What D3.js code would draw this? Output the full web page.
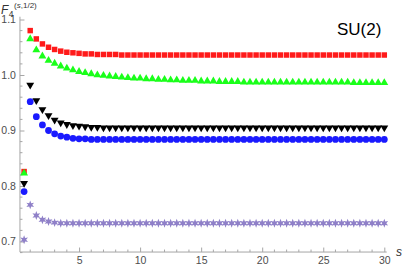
<!DOCTYPE html>
<html>
<head>
<meta charset="utf-8">
<script src="https://cdn.jsdelivr.net/npm/d3@7"></script>
<style>
  body { margin: 0; background: #fff; }
  svg { display: block; font-family: "Liberation Sans", Arial, sans-serif; }
</style>
</head>
<body>
<div id="chart"></div>
<script>
// values
const sVals = [0.5,1,1.5,2,2.5,3,3.5,4,4.5,5,5.5,6,6.5,7,7.5,8,8.5,9,9.5,10,
  10.5,11,11.5,12,12.5,13,13.5,14,14.5,15,15.5,16,16.5,17,17.5,18,18.5,19,19.5,20,
  20.5,21,21.5,22,22.5,23,23.5,24,24.5,25,25.5,26,26.5,27,27.5,28,28.5,29,29.5,30];

const redVals = [0.826,1.080,1.065,1.056,1.050,1.046,1.043,1.041,1.040,1.039,
  1.038,1.038,1.037,1.037,1.037,1.037,1.036,1.036,1.036,1.036,
  1.036,1.036,1.036,1.036,1.036,1.036,1.036,1.036,1.036,1.036,
  1.036,1.036,1.036,1.036,1.036,1.036,1.036,1.036,1.036,1.036,
  1.036,1.036,1.036,1.036,1.036,1.036,1.036,1.036,1.036,1.036,
  1.036,1.036,1.036,1.036,1.036,1.036,1.036,1.036,1.036,1.036];

const greenVals = [0.823,1.065,1.045,1.034,1.026,1.021,1.016,1.012,1.009,1.006,
  1.004,1.002,1.000,0.999,0.998,0.997,0.996,0.995,0.994,0.994,
  0.993,0.993,0.992,0.992,0.991,0.991,0.990,0.990,0.990,0.989,
  0.989,0.989,0.988,0.988,0.988,0.988,0.987,0.987,0.987,0.987,
  0.987,0.987,0.987,0.987,0.987,0.987,0.987,0.987,0.987,0.987,
  0.987,0.987,0.987,0.987,0.986,0.986,0.986,0.986,0.986,0.986];

const blackVals = [0.805,0.982,0.954,0.938,0.927,0.919,0.914,0.911,0.909,0.908,
  0.907,0.906,0.906,0.905,0.905,0.905,0.905,0.905,0.905,0.905,
  0.905,0.905,0.905,0.905,0.905,0.905,0.905,0.905,0.905,0.905,
  0.905,0.905,0.905,0.905,0.905,0.905,0.905,0.905,0.905,0.905,
  0.905,0.905,0.905,0.905,0.905,0.905,0.905,0.905,0.905,0.905,
  0.905,0.905,0.905,0.905,0.905,0.905,0.905,0.905,0.905,0.905];

const blueVals = [0.790,0.952,0.925,0.910,0.900,0.894,0.890,0.888,0.886,0.885,
  0.885,0.884,0.884,0.884,0.884,0.884,0.884,0.884,0.884,0.884,
  0.884,0.884,0.884,0.884,0.884,0.884,0.884,0.884,0.884,0.884,
  0.884,0.884,0.884,0.884,0.884,0.884,0.884,0.884,0.884,0.884,
  0.884,0.884,0.884,0.884,0.884,0.884,0.884,0.884,0.884,0.884,
  0.884,0.884,0.884,0.884,0.884,0.884,0.884,0.884,0.884,0.884];

const starVals = [0.703,0.766,0.747,0.739,0.736,0.734,0.733,0.733,0.733,0.733,
  0.733,0.733,0.733,0.733,0.733,0.733,0.733,0.733,0.733,0.733,
  0.733,0.733,0.733,0.733,0.733,0.733,0.733,0.733,0.733,0.733,
  0.733,0.733,0.733,0.733,0.733,0.733,0.733,0.733,0.733,0.733,
  0.733,0.733,0.733,0.733,0.733,0.733,0.733,0.733,0.733,0.733,
  0.733,0.733,0.733,0.733,0.733,0.733,0.733,0.733,0.733,0.733];

const xTicks = [5, 10, 15, 20, 25, 30];
const yTicks = [0.7, 0.8, 0.9, 1.0, 1.1];

const width = 403, height = 266;

const svg = d3.select("#chart").append("svg")
  .attr("width", width)
  .attr("height", height);

// scales (pixel positions measured from the tick marks)
const x = d3.scaleLinear().domain([0, 30]).range([18, 384.3]);
const y = d3.scaleLinear().domain([0.7, 1.1]).range([241.5, 19.5]);

const xMin = 0.16, xMax = 30.2, yMin = 0.681, yMax = 1.105;
const axisColor = "#a6a6a6";
const labelColor = "#4d4d4d";

// axis lines
svg.append("line")
  .attr("x1", x(xMin)).attr("x2", x(xMax))
  .attr("y1", y(yMin)).attr("y2", y(yMin))
  .attr("stroke", axisColor);
svg.append("line")
  .attr("x1", x(xMin)).attr("x2", x(xMin))
  .attr("y1", y(yMin)).attr("y2", y(yMax))
  .attr("stroke", axisColor);

// minor ticks
const xMinor = d3.range(1, 31).filter(v => v % 5 !== 0);
const yMinor = d3.range(0.68, 1.105, 0.02).filter(v => Math.abs(v * 10 - Math.round(v * 10)) > 0.01);

svg.append("g").selectAll("line").data(xMinor).enter().append("line")
  .attr("x1", d => x(d)).attr("x2", d => x(d))
  .attr("y1", y(yMin)).attr("y2", y(yMin) - 2.5)
  .attr("stroke", axisColor);
svg.append("g").selectAll("line").data(yMinor).enter().append("line")
  .attr("x1", x(xMin)).attr("x2", x(xMin) + 2.5)
  .attr("y1", d => y(d)).attr("y2", d => y(d))
  .attr("stroke", axisColor);

// major ticks + labels
const xAxis = svg.append("g")
  .attr("transform", `translate(0,${y(yMin)})`)
  .call(d3.axisBottom(x).tickValues(xTicks).tickSizeInner(-4.5).tickSizeOuter(0).tickPadding(5));
const yAxis = svg.append("g")
  .attr("transform", `translate(${x(xMin)},0)`)
  .call(d3.axisLeft(y).tickValues(yTicks).tickFormat(d3.format(".1f")).tickSizeInner(-4.5).tickSizeOuter(0).tickPadding(4));

[xAxis, yAxis].forEach(g => {
  g.select(".domain").remove();
  g.selectAll(".tick line").attr("stroke", axisColor);
  g.selectAll(".tick text")
    .attr("fill", labelColor)
    .style("font-size", "10.5px")
    .style("font-family", "'Liberation Sans', Arial, sans-serif");
});

// six-armed star marker
const star6 = {
  draw(context, size) {
    const r = Math.sqrt(size) * 0.62, ri = r * 0.45;
    for (let i = 0; i < 12; i++) {
      const a = -Math.PI / 2 + i * Math.PI / 6;
      const rr = i % 2 === 0 ? r : ri;
      const px = rr * Math.cos(a), py = rr * Math.sin(a);
      if (i === 0) context.moveTo(px, py); else context.lineTo(px, py);
    }
    context.closePath();
  }
};

const series = [
  { vals: redVals, color: "#ff1a1a", type: d3.symbolSquare, size: 30, rot: 0 },
  { vals: greenVals, color: "#1aff1a", type: d3.symbolTriangle, size: 27, rot: 0 },
  { vals: blackVals, color: "#000000", type: d3.symbolTriangle, size: 27, rot: 180 },
  { vals: blueVals, color: "#1a1aff", type: d3.symbolCircle, size: 36, rot: 0 },
  { vals: starVals, color: "#8f80c8", type: star6, size: 52, rot: 0 }
];

series.forEach(sr => {
  svg.append("g").selectAll("path")
    .data(sVals.map((s, i) => ({ s: s, v: sr.vals[i] })))
    .enter().append("path")
      .attr("d", d3.symbol().type(sr.type).size(sr.size))
      .attr("transform", d => `translate(${x(d.s)},${y(d.v)}) rotate(${sr.rot})`)
      .attr("fill", sr.color);
});

// axis labels
const yLab = svg.append("text")
  .attr("x", 1).attr("y", 14)
  .attr("fill", "#333")
  .style("font-size", "12px");
yLab.append("tspan").style("font-style", "italic").text("F");
yLab.append("tspan").attr("dx", 0.5).attr("dy", 2.5).style("font-size", "8.5px").text("4");
yLab.append("tspan").attr("dx", 0.5).attr("dy", -9).style("font-size", "8px").text("(");
yLab.append("tspan").style("font-size", "8px").style("font-style", "italic").text("s");
yLab.append("tspan").style("font-size", "8px").text(",1/2)");

svg.append("text")
  .attr("x", 396).attr("y", 256)
  .attr("fill", "#333")
  .style("font-size", "12px")
  .style("font-style", "italic")
  .text("s");

svg.append("text")
  .attr("x", 337).attr("y", 34.5)
  .attr("fill", "#000")
  .style("font-size", "17px")
  .text("SU(2)");
</script>
</body>
</html>
